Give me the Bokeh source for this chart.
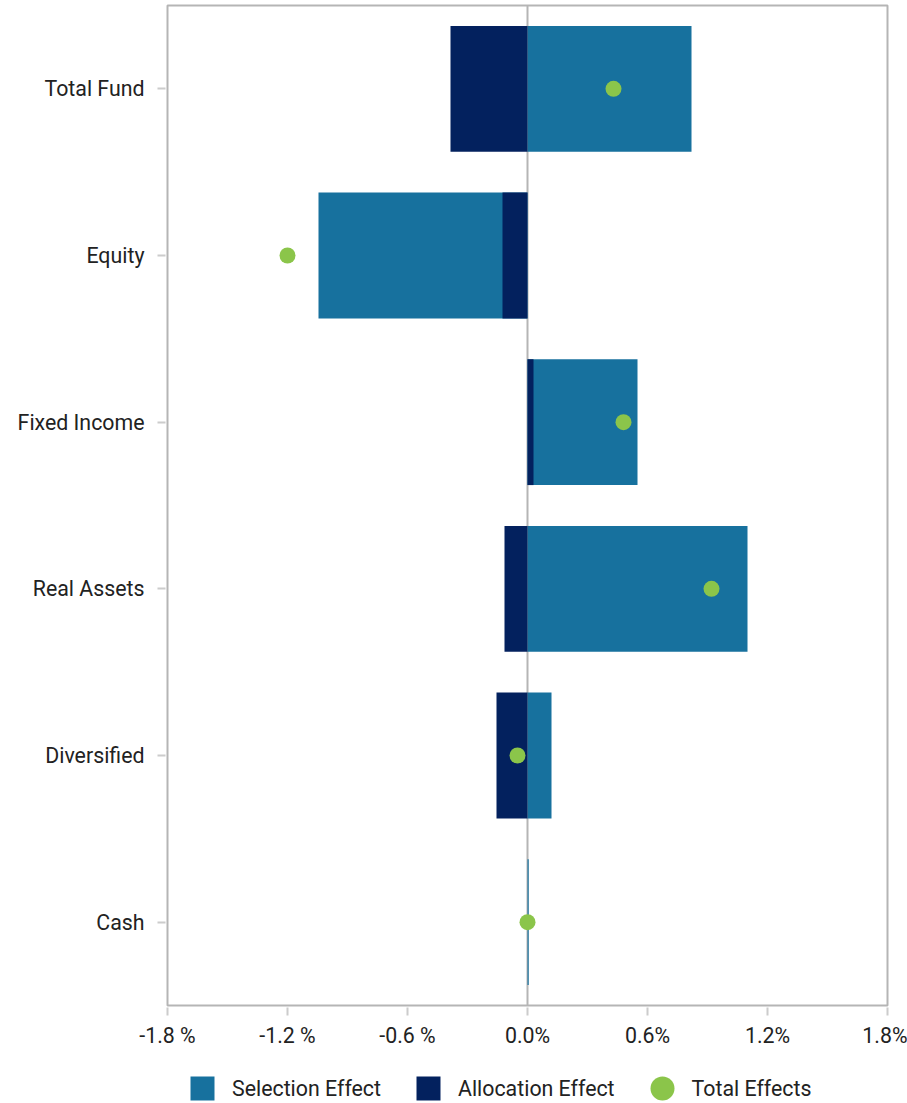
from bokeh.plotting import figure
from bokeh.layouts import column
from bokeh.models import (FactorRange, Range1d, FixedTicker, Span, Legend, LegendItem,
                          ColumnDataSource)
from bokeh.embed import file_html
from bokeh.resources import INLINE

categories = ["Total Fund", "Equity", "Fixed Income", "Real Assets", "Diversified", "Cash"]
selection_effect = [0.82, -1.045, 0.55, 1.10, 0.12, 0.006]
allocation_effect = [-0.385, -0.125, 0.03, -0.115, -0.155, 0.0]
total_effects = [0.43, -1.20, 0.48, 0.92, -0.05, 0.0]
tick_values = [-1.8, -1.2, -0.6, 0.0, 0.6, 1.2, 1.8]
tick_labels = ["-1.8 %", "-1.2 %", "-0.6 %", "0.0%", "0.6%", "1.2%", "1.8%"]
legend_labels = ["Selection Effect", "Allocation Effect", "Total Effects"]

SEL = "#17719E"
ALLOC = "#03215E"
TOT = "#8BC54A"
FONT = "Roboto"
FSIZE = "16pt"
TEXT = "#222222"

src = ColumnDataSource(dict(cat=categories, sel=selection_effect,
                            alloc=allocation_effect, tot=total_effects))

p = figure(width=907, height=1060, output_backend="svg", toolbar_location=None,
           y_range=FactorRange(factors=categories[::-1]),
           x_range=Range1d(-1.8, 1.8),
           min_border_left=167, min_border_right=20, min_border_top=5, min_border_bottom=55)

p.background_fill_color = "white"
p.border_fill_color = "white"
p.outline_line_color = "#b5b5b5"
p.outline_line_width = 2
p.xgrid.visible = False
p.ygrid.visible = False

zero = Span(location=0, dimension="height", line_color="#b5b5b5", line_width=2, level="underlay")
p.add_layout(zero)

p.hbar(y="cat", left=0, right="sel", height=0.755, source=src, fill_color=SEL, line_color=None)
p.hbar(y="cat", left=0, right="alloc", height=0.755, source=src, fill_color=ALLOC, line_color=None)
p.scatter(x="tot", y="cat", source=src, size=16, fill_color=TOT, line_color=None)

# axes
p.xaxis.ticker = FixedTicker(ticks=tick_values)
p.xaxis.major_label_overrides = {v: l for v, l in zip(tick_values, tick_labels)}
p.xaxis.axis_line_color = None
p.xaxis.minor_tick_line_color = None
p.xaxis.major_tick_line_color = "#cccccc"
p.xaxis.major_tick_line_width = 2
p.xaxis.major_tick_out = 10
p.xaxis.major_tick_in = -2
p.xaxis.major_label_standoff = 7
p.xaxis.major_label_text_font = FONT
p.xaxis.major_label_text_font_size = FSIZE
p.xaxis.major_label_text_color = TEXT

p.yaxis.axis_line_color = None
p.yaxis.major_tick_line_color = "#cccccc"
p.yaxis.major_tick_line_width = 2
p.yaxis.major_tick_out = 10
p.yaxis.major_tick_in = -2
p.yaxis.major_label_standoff = 13
p.yaxis.major_label_text_font = FONT
p.yaxis.major_label_text_font_size = FSIZE
p.yaxis.major_label_text_color = TEXT

# legend strip (separate figure below the chart)
lg = figure(width=907, height=43, output_backend="svg", toolbar_location=None,
            x_range=Range1d(0, 1), y_range=Range1d(0, 1),
            min_border=0, x_axis_location=None, y_axis_location=None)
lg.outline_line_color = None
lg.xgrid.visible = False
lg.ygrid.visible = False
lg.background_fill_color = "white"
lg.border_fill_color = "white"

# invisible proxy renderers (one hidden point each) that only feed the legend swatches
proxy = ColumnDataSource(dict(x=[0], y=[0]))
r_sel = lg.scatter(x="x", y="y", source=proxy, marker="square", fill_color=SEL, line_color=None, visible=False)
r_alloc = lg.scatter(x="x", y="y", source=proxy, marker="square", fill_color=ALLOC, line_color=None, visible=False)
r_tot = lg.scatter(x="x", y="y", source=proxy, marker="circle", fill_color=TOT, line_color=None, visible=False)

legend = Legend(items=[LegendItem(label=legend_labels[0], renderers=[r_sel]),
                       LegendItem(label=legend_labels[1], renderers=[r_alloc]),
                       LegendItem(label=legend_labels[2], renderers=[r_tot])],
                orientation="horizontal", location=(5, -15),
                glyph_width=60, glyph_height=60, label_standoff=0, spacing=17,
                padding=0, margin=0, border_line_color=None, background_fill_alpha=0,
                label_text_font=FONT, label_text_font_size=FSIZE, label_text_color=TEXT)
lg.add_layout(legend)

layout = column(p, lg, spacing=0)
open("out.html", "w").write(file_html(layout, INLINE))
